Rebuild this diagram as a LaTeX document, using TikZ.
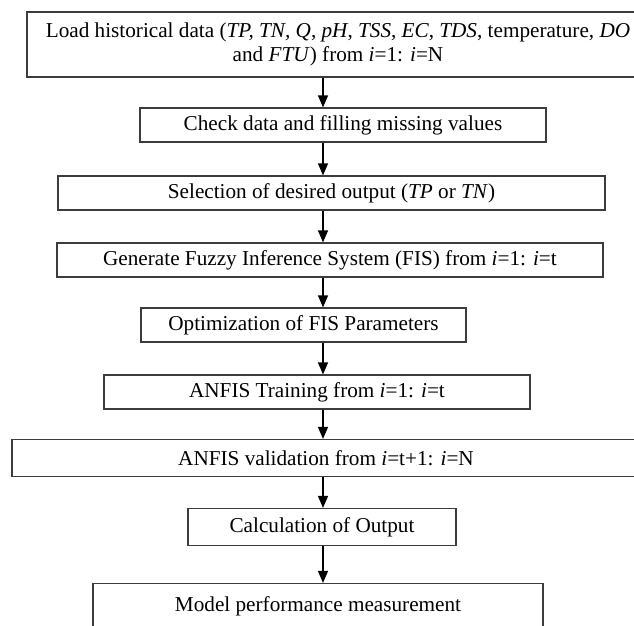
\documentclass[tikz,border=0pt]{standalone}
\usepackage{fontspec}
\setmainfont{Liberation Serif}
\usetikzlibrary{arrows.meta}
\definecolor{boxline}{HTML}{3C3C3C}
\tikzset{
  flowbox/.style={draw=boxline, line width=1.2pt, inner sep=0pt, align=center,
    font=\fontsize{21.2}{23.5}\selectfont},
  flowarrow/.style={draw=black, line width=1.2pt,
    -{Triangle[length=12pt,width=10pt]}}
}
\begin{document}
\begin{tikzpicture}[x=1pt,y=-1pt]
  \useasboundingbox (0,0) rectangle (634,625);
  \clip (0,0) rectangle (634,625);
  % column of the connecting arrows
  \coordinate (ax) at (323,0);
  % process steps, top to bottom
  \node[flowbox, minimum width=622pt, minimum height=65pt] (b1) at (338,44.5)
    {Load historical data (\textit{TP, TN, Q}, \textit{pH}, \textit{TSS}, \textit{EC}, \textit{TDS}, temperature, \textit{DO}\\
     and \textit{FTU}) from \textit{i}=1: \textit{i}=N};
  \node[flowbox, minimum width=406pt, minimum height=34pt] (b2) at (343,125)
    {Check data and filling missing values};
  \node[flowbox, minimum width=547pt, minimum height=34pt] (b3) at (331.5,193)
    {Selection of desired output (\textit{TP} or \textit{TN})};
  \node[flowbox, minimum width=546pt, minimum height=34pt] (b4) at (330,260)
    {Generate Fuzzy Inference System (FIS) from \textit{i}=1: \textit{i}=t};
  \node[flowbox, minimum width=325pt, minimum height=34pt] (b5) at (303.5,325)
    {Optimization of FIS Parameters};
  \node[flowbox, minimum width=426pt, minimum height=34pt] (b6) at (317,392)
    {ANFIS Training from \textit{i}=1: \textit{i}=t};
  \node[flowbox, minimum width=628pt, minimum height=37pt] (b7) at (326,458)
    {ANFIS validation from \textit{i}=t+1: \textit{i}=N};
  \node[flowbox, minimum width=268pt, minimum height=37pt] (b8) at (322,527)
    {Calculation of Output};
  \node[flowbox, minimum width=450pt, minimum height=45pt] (b9) at (318,606)
    {Model performance measurement};
  % connectors
  \foreach \a/\b in {b1/b2,b2/b3,b3/b4,b4/b5,b5/b6,b6/b7,b7/b8,b8/b9}
    \draw[flowarrow] (\a.south -| ax) -- (\b.north -| ax);
\end{tikzpicture}
\end{document}
